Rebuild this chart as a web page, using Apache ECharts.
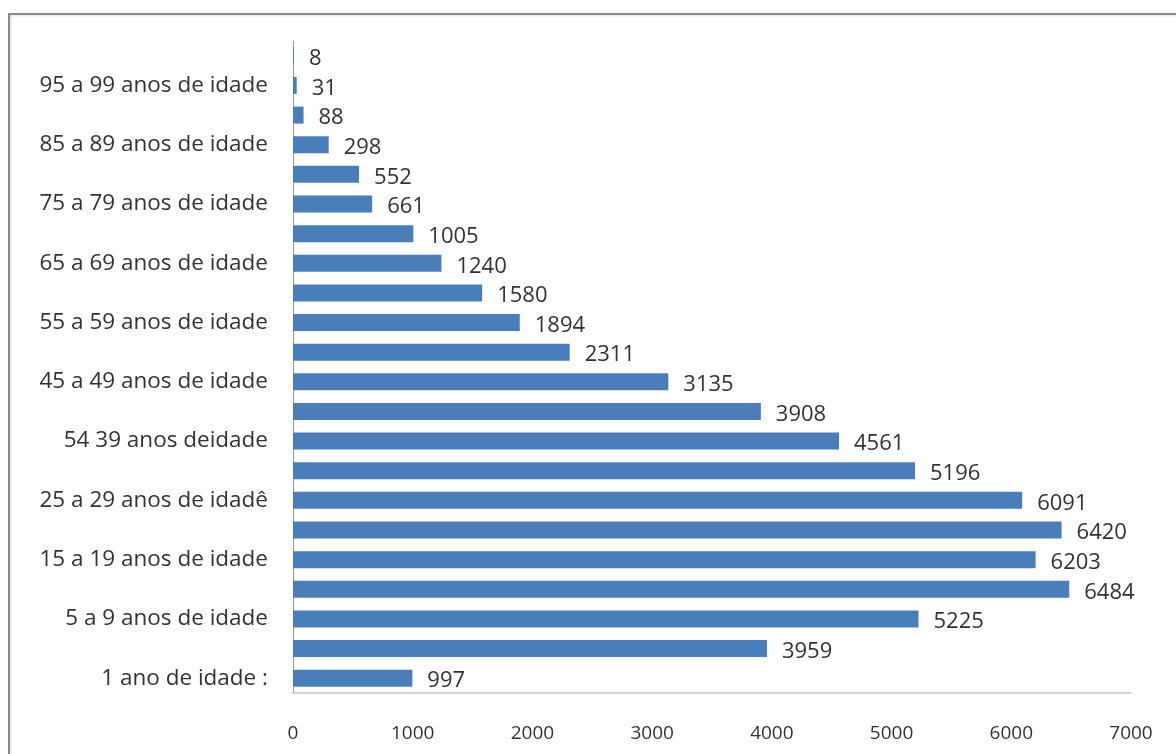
<!DOCTYPE html>
<html>
<head>
<meta charset="utf-8">
<script src="https://cdn.jsdelivr.net/npm/echarts@6/dist/echarts.min.js"></script>
<style>
  html, body { margin: 0; padding: 0; background: #fff; }
  #frame {
    position: absolute; left: 8px; top: 13px; width: 1180px; height: 760px;
    border-left: 2px solid #8a8a8a; border-top: 2px solid #8a8a8a;
    box-shadow: inset 1px 1px 3px #ddd;
  }
  #chart { position: absolute; left: 0; top: 0; width: 1176px; height: 754px; }
</style>
</head>
<body>
<div id="frame"></div>
<div id="chart"></div>
<script>
// faixas etarias, de baixo para cima
const categorias = [
  '1 ano de idade :', '1 a 4 anos de idade', '5 a 9 anos de idade', '10 a 14 anos de idade',
  '15 a 19 anos de idade', '20 a 24 anos de idade', '25 a 29 anos de idadê', '30 a 34 anos de idade',
  '54 39 anos deidade', '40 a 44 anos de idade', '45 a 49 anos de idade', '50 a 54 anos de idade',
  '55 a 59 anos de idade', '60 a 64 anos de idade', '65 a 69 anos de idade', '70 a 74 anos de idade',
  '75 a 79 anos de idade', '80 a 84 anos de idade', '85 a 89 anos de idade', '90 a 94 anos de idade',
  '95 a 99 anos de idade', '100 anos ou mais'
]
const valores = [
  997, 3959, 5225, 6484, 6203, 6420, 6091, 5196, 4561, 3908, 3135,
  2311, 1894, 1580, 1240, 1005, 661, 552, 298, 88, 31, 8
]

const fonte = '"Open Sans", Lato, sans-serif'
const chart = echarts.init(document.getElementById('chart'))
chart.setOption({
  animation: false,
  grid: { left: 293, right: 45, top: 41, bottom: 61 },
  xAxis: {
    type: 'value',
    min: 0,
    max: 7000,
    interval: 1000,
    splitLine: { show: false },
    axisLine: { show: true, lineStyle: { color: '#c4c4c4', width: 1.5 } },
    axisTick: { show: false },
    axisLabel: {
      color: '#333', fontSize: 19, fontFamily: fonte, margin: 31,
      formatter: v => String(v)
    }
  },
  yAxis: {
    type: 'category',
    data: categorias,
    axisLine: { show: true, lineStyle: { color: '#999', width: 1 } },
    axisTick: { show: false },
    axisLabel: {
      interval: 1, // so mostra um sim um nao
      color: '#333', fontSize: 22.5, fontFamily: fonte, margin: 25
    }
  },
  series: [
    {
      type: 'bar',
      data: valores,
      barWidth: 17,
      itemStyle: { color: '#4a7ebb' },
      label: {
        show: true,
        position: 'right',
        distance: 15,
        offset: [0, 3],
        color: '#333',
        fontSize: 22,
        fontFamily: fonte
      }
    }
  ]
})
</script>
</body>
</html>
